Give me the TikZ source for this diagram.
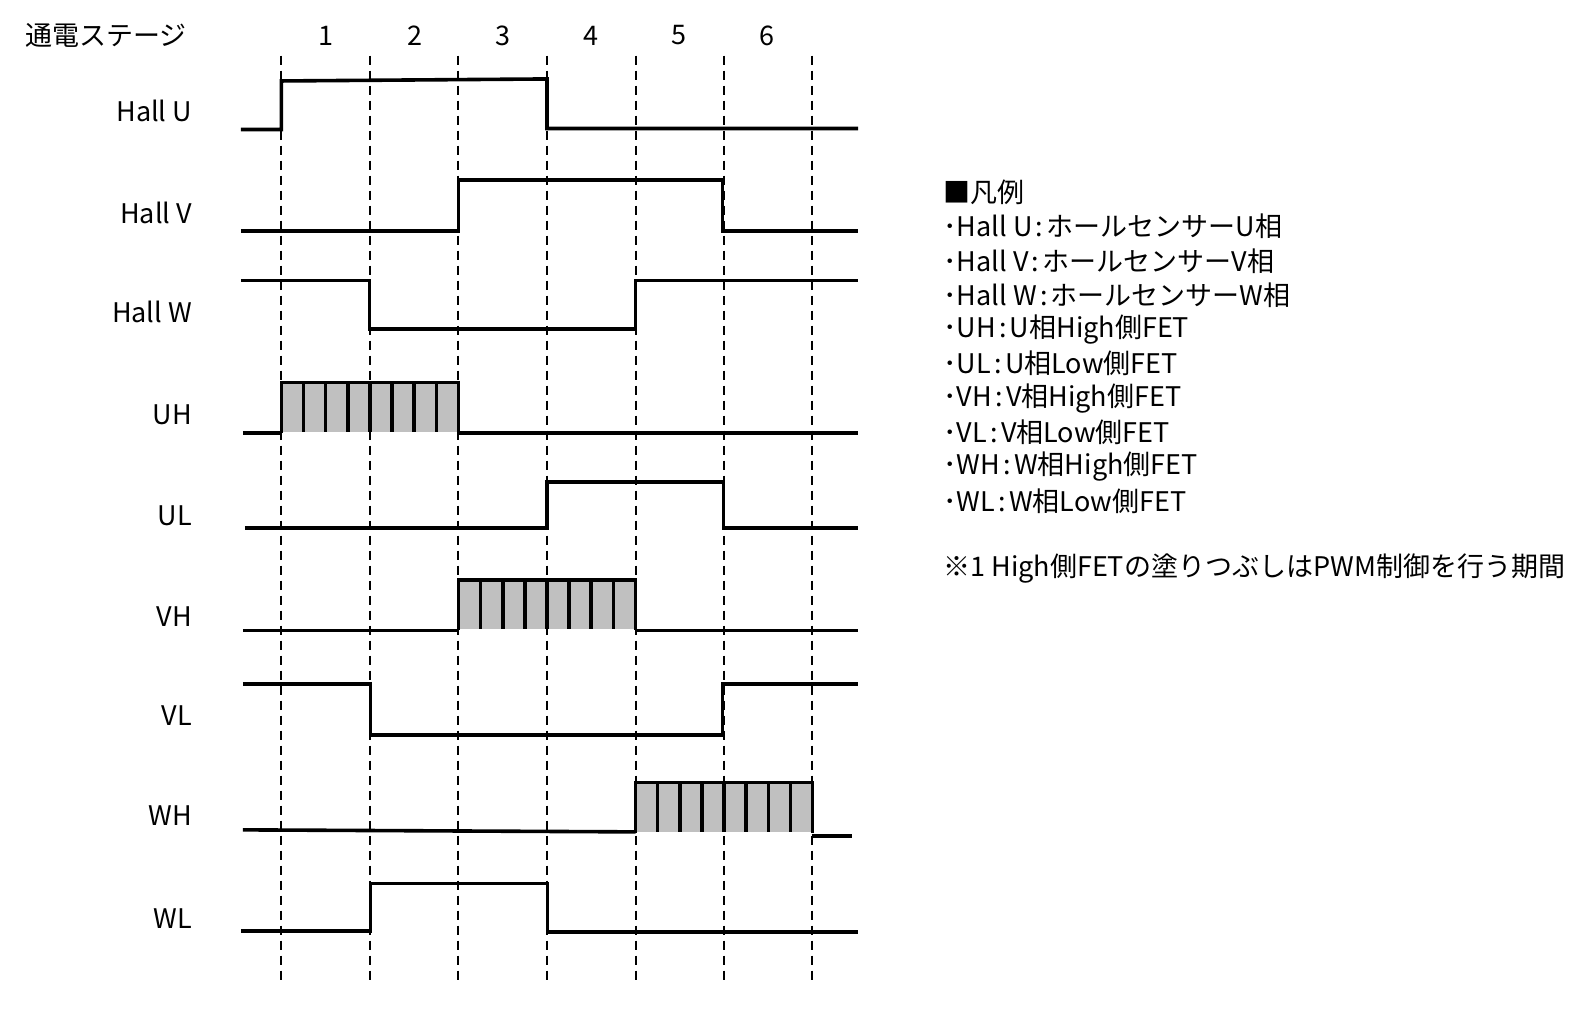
\documentclass[tikz,border=0pt]{standalone}
\usepackage{fontspec}
\setmainfont{Noto Sans CJK JP}
\usetikzlibrary{positioning,calc}
\definecolor{pwmgray}{RGB}{192,192,192}
\newcommand{\lcolon}{\hspace{0.12em}:\hspace{0.12em}}

\begin{document}
\begin{tikzpicture}[x=1.012pt, y=-1.012pt]
	\useasboundingbox (0,0) rectangle (1564.2,1004);
	\tikzstyle{every node}=[inner sep=0pt, font=\fontsize{27}{32}\selectfont]
	\tikzstyle{sig}=[line width=3.6pt]
	\tikzstyle{grid}=[line width=2pt, dash pattern=on 9pt off 6pt]
	\tikzstyle{lbl}=[anchor=east]
	\tikzstyle{legend}=[anchor=west]

	\node[anchor=west] (stage) at (25, 35) {通電ステージ};
	\foreach \n/\x in {1/322, 2/410, 3/497, 4/584, 5/671, 6/758}
		\node (s\n) at (\x, 35) {\n};

	\foreach \x in {278, 365.5, 453, 540.5, 628, 715, 802}
		\draw[grid] (\x, 55) -- (\x, 972);

	\node[lbl] (hallu) at (190, 110) {Hall U};
	\node[lbl] (hallv) at (190, 210) {Hall V};
	\node[lbl] (hallw) at (190, 308) {Hall W};
	\node[lbl] (uh) at (190, 410) {UH};
	\node[lbl] (ul) at (190, 510) {UL};
	\node[lbl] (vh) at (190, 609) {VH};
	\node[lbl] (vl) at (190, 707) {VL};
	\node[lbl] (wh) at (190, 806) {WH};
	\node[lbl] (wl) at (190, 908) {WL};

	\draw[sig] (238,128) -- (278,128) -- (278,80) -- (540.5,78) -- (540.5,127) -- (848,127);
	\draw[sig] (238,228) -- (453,228) -- (453,178) -- (714,178) -- (714,228) -- (848,228);
	\draw[sig] (238,277) -- (365,277) -- (365,325) -- (628,325) -- (628,277) -- (848,277);
	\draw[sig] (240,428) -- (278,428);
	\draw[sig] (453,428) -- (848,428);
	\draw[sig] (242,522) -- (540.5,522) -- (540.5,476) -- (715,476) -- (715,522) -- (848,522);
	\draw[sig] (240,623) -- (453,623);
	\draw[sig] (628,623) -- (848,623);
	\draw[sig] (240,676) -- (366,676) -- (366,726) -- (714,726) -- (714,676) -- (848,676);
	\draw[sig] (240,820) -- (628,822);
	\draw[sig] (802,826) -- (842,826);
	\draw[sig] (238,920) -- (366,920) -- (366,873) -- (541,873) -- (541,921) -- (848,921);

	\foreach \xa/\ya in {278/378, 453/573, 628/773} {
		\fill[pwmgray] (\xa,\ya) rectangle (\xa+175,\ya+49);
		\draw[sig] (\xa,\ya+50) -- (\xa,\ya) -- (\xa+175,\ya) -- (\xa+175,\ya+50);
		\foreach \k in {1,...,7}
			\draw[sig] (\xa+21.875*\k,\ya) -- (\xa+21.875*\k,\ya+49);
	}

	\foreach \txt [count=\i] in {■凡例, ･Hall U\lcolon ホールセンサーU相, ･Hall V\lcolon ホールセンサーV相,
		･Hall W\lcolon ホールセンサーW相, ･UH\lcolon U相High側FET, ･UL\lcolon U相Low側FET, ･VH\lcolon V相High側FET,
		･VL\lcolon V相Low側FET, ･WH\lcolon W相High側FET, ･WL\lcolon W相Low側FET}
		\node[legend] (leg\i) at (932, 156+33.9*\i) {\txt};
	\node[legend] (note) at (932, 562) {※1 High側FETの塗りつぶしはPWM制御を行う期間};
\end{tikzpicture}
\end{document}
